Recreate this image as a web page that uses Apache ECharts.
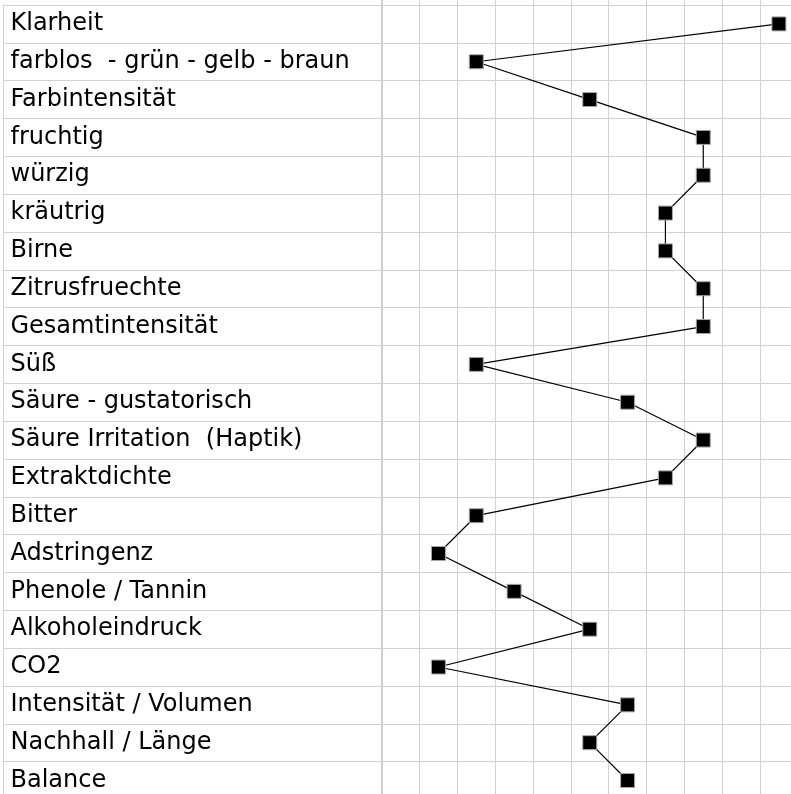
<!DOCTYPE html>
<html>
<head>
<meta charset="utf-8">
<script src="https://cdn.jsdelivr.net/npm/echarts@6/dist/echarts.min.js"></script>
<style>
html,body{margin:0;padding:0;background:#fff;overflow:hidden;width:791px;height:794px;position:relative;}
#chart{position:absolute;left:0;top:-40px;width:820px;height:850px;}
</style>
</head>
<body>
<div id="chart"></div>
<script>
// Row labels (top to bottom)
var labels = [
  'Klarheit',
  'farblos  - grün - gelb - braun',
  'Farbintensität',
  'fruchtig',
  'würzig',
  'kräutrig',
  'Birne',
  'Zitrusfruechte',
  'Gesamtintensität',
  'Süß',
  'Säure - gustatorisch',
  'Säure Irritation  (Haptik)',
  'Extraktdichte',
  'Bitter',
  'Adstringenz',
  'Phenole / Tannin',
  'Alkoholeindruck',
  'CO2',
  'Intensität / Volumen',
  'Nachhall / Länge',
  'Balance'
];
// Score column (1..11) per row
var scores = [11, 3, 6, 9, 9, 8, 8, 9, 9, 3, 7, 9, 8, 3, 2, 4, 6, 2, 7, 6, 7];
// Score columns of the grid
var scoreColumns = ['1','2','3','4','5','6','7','8','9','10','11'];

var ROW = 37.83;
var OFFSET = 40;          // container is shifted up by this many px
var TOP = 5 + OFFSET;
var GRIDCOLOR = '#d2d2d2';

var chartRows = [''].concat(labels);
var seriesData = labels.map(function (l, i) { return [String(scores[i]), l]; });

var chart = echarts.init(document.getElementById('chart'));
chart.setOption({
  animation: false,
  backgroundColor: '#fff',
  grid: [
    { left: 3, top: TOP, width: 378.7, height: ROW * labels.length },
    { left: 381.7, top: TOP - ROW, width: ROW * scoreColumns.length, height: ROW * chartRows.length }
  ],
  xAxis: [
    { gridIndex: 0, type: 'value', show: false, min: 0, max: 1 },
    {
      gridIndex: 1, type: 'category', data: scoreColumns, boundaryGap: true,
      axisLine: { show: false }, axisTick: { show: false }, axisLabel: { show: false },
      splitLine: { show: true, interval: 0, lineStyle: { color: GRIDCOLOR, width: 1 } }
    }
  ],
  yAxis: [
    {
      gridIndex: 0, type: 'category', data: labels, inverse: true, boundaryGap: true,
      axisLine: { show: true, lineStyle: { color: GRIDCOLOR, width: 1 } },
      axisTick: { show: false },
      axisLabel: {
        show: true, inside: true, interval: 0, margin: 7.5, align: 'left',
        fontFamily: 'DejaVu Sans', fontSize: 24, color: '#000'
      },
      splitLine: { show: true, interval: 0, lineStyle: { color: GRIDCOLOR, width: 1 } }
    },
    {
      gridIndex: 1, type: 'category', data: chartRows, inverse: true, boundaryGap: true,
      axisLine: { show: true, lineStyle: { color: '#d0d0d0', width: 2 } },
      axisTick: { show: false }, axisLabel: { show: false },
      splitLine: { show: true, interval: 0, lineStyle: { color: GRIDCOLOR, width: 1 } }
    }
  ],
  series: [{
    type: 'line',
    xAxisIndex: 1, yAxisIndex: 1,
    data: seriesData,
    symbol: 'rect',
    symbolSize: 14,
    showAllSymbol: true,
    itemStyle: { color: '#000', borderColor: '#a8a8a8', borderWidth: 1 },
    lineStyle: { color: '#000', width: 1.2 },
    emphasis: { disabled: true }
  }]
});
</script>
</body>
</html>
